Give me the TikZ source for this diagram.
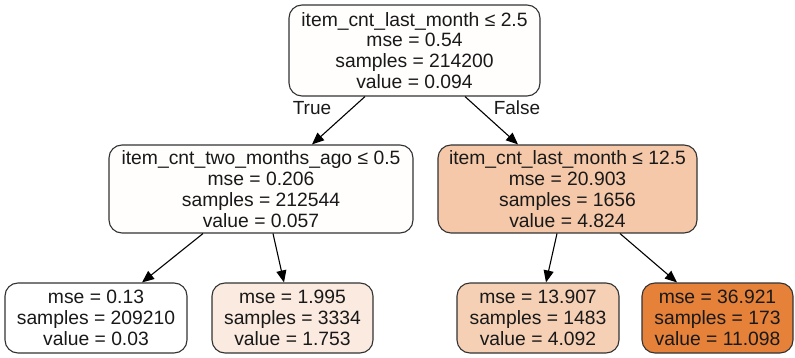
\documentclass[tikz,border=0pt]{standalone}
\usepackage{fontspec}
\setmainfont{Liberation Sans}
\usetikzlibrary{arrows.meta}
\definecolor{croot}{HTML}{FFFEFD}
\definecolor{clm}{HTML}{FFFEFD}
\definecolor{crm}{HTML}{F4C8A9}
\definecolor{cbone}{HTML}{FFFFFF}
\definecolor{cbtwo}{HTML}{FBEADF}
\definecolor{cbthree}{HTML}{F5D0B5}
\definecolor{cbfour}{HTML}{E58139}
\definecolor{bordc}{HTML}{333333}
\tikzset{
  treebox/.style={draw=bordc, line width=1.1pt, rounded corners=13pt, align=center,
    inner sep=0pt, font=\fontsize{19.3}{20.8}\selectfont, text=black!90},
  edgearrow/.style={draw=black, line width=1.1pt, -{Triangle[length=12pt,width=10pt]}},
  edgelabel/.style={font=\fontsize{19}{19}\selectfont, text=black!90}
}
\begin{document}
\begin{tikzpicture}[x=1pt,y=-1pt]
\useasboundingbox (0,0) rectangle (795,358);
\node[treebox, fill=croot, minimum width=251pt, minimum height=91pt] (root) at (414.5,50.5)
  {item\_cnt\_last\_month ≤ 2.5\\mse = 0.54\\samples = 214200\\value = 0.094};
\node[treebox, fill=clm, minimum width=304pt, minimum height=88pt] (lm) at (261,189)
  {item\_cnt\_two\_months\_ago ≤ 0.5\\mse = 0.206\\samples = 212544\\value = 0.057};
\node[treebox, fill=crm, minimum width=259pt, minimum height=88pt] (rm) at (567.5,189)
  {item\_cnt\_last\_month ≤ 12.5\\mse = 20.903\\samples = 1656\\value = 4.824};
\node[treebox, fill=cbone, minimum width=182pt, minimum height=70pt] (b1) at (96,318)
  {mse = 0.13\\samples = 209210\\value = 0.03};
\node[treebox, fill=cbtwo, minimum width=161pt, minimum height=70pt] (b2) at (292.5,318)
  {mse = 1.995\\samples = 3334\\value = 1.753};
\node[treebox, fill=cbthree, minimum width=162pt, minimum height=70pt] (b3) at (538,318)
  {mse = 13.907\\samples = 1483\\value = 4.092};
\node[treebox, fill=cbfour, minimum width=151pt, minimum height=70pt] (b4) at (717.5,318)
  {mse = 36.921\\samples = 173\\value = 11.098};
\draw[edgearrow] ([xshift=-49.5pt]root.south) -- ([xshift=51pt]lm.north);
\draw[edgearrow] ([xshift=50.5pt]root.south) -- ([xshift=-49.5pt]rm.north);
\draw[edgearrow] ([xshift=-58pt]lm.south) -- ([xshift=46pt]b1.north);
\draw[edgearrow] ([xshift=12pt]lm.south) -- ([xshift=-8.5pt]b2.north);
\draw[edgearrow] ([xshift=-10.5pt]rm.south) -- ([xshift=8pt]b3.north);
\draw[edgearrow] ([xshift=52.5pt]rm.south) -- ([xshift=-40.5pt]b4.north);
\node[edgelabel] (truelbl) at (312,108) {True};
\node[edgelabel] (falselbl) at (517,108) {False};
\end{tikzpicture}
\end{document}
